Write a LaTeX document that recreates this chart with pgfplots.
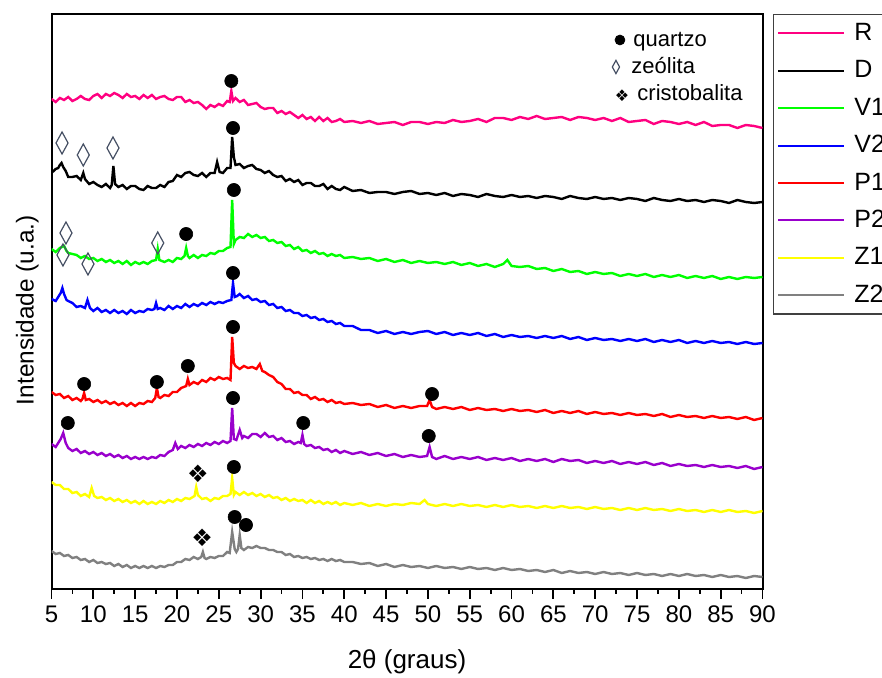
\documentclass[border=0pt]{standalone}
\usepackage{fontspec}
\setmainfont{Liberation Sans}
\newfontfamily\symfont{DejaVu Sans}
\usepackage{pgfplots}
\pgfplotsset{compat=1.18}

\newcommand\fs[1]{\fontsize{#1}{#1}\selectfont}
\definecolor{cR}{RGB}{255,0,128}
\definecolor{cV1}{RGB}{0,255,0}
\definecolor{cV2}{RGB}{0,0,255}
\definecolor{cP1}{RGB}{255,0,0}
\definecolor{cP2}{RGB}{153,0,204}
\definecolor{cZ1}{RGB}{255,255,0}
\definecolor{cZ2}{RGB}{128,128,128}
\definecolor{dia}{RGB}{70,80,100}

\begin{document}
\begin{tikzpicture}
\begin{axis}[
  name=ax,
  scale only axis, width=355.5pt, height=287.5pt,
  xmin=5, xmax=90, ymin=0, ymax=575,
  xtick={5,10,...,90}, minor x tick num=1,
  ytick=\empty,
  tick align=outside, xtick pos=bottom,
  major tick length=5pt, minor tick length=2.5pt,
  tick style={black, line width=0.9pt},
  axis line style={line width=1pt},
  /pgf/number format/assume math mode=true,
  tick label style={font=\fs{12}},
  xlabel={2θ (graus)},
  xlabel style={font=\fs{13}, at={(axis description cs:0.5,0)}, anchor=center, yshift=-36.5pt},
  ylabel={Intensidade (u.a.)},
  ylabel style={font=\fs{12.2}, at={(axis description cs:-0.034,0.485)}, anchor=center},
  legend style={at={(1,1)}, anchor=north west, xshift=5pt, draw=black!75, line width=0.7pt,
    fill=white, font=\fs{12.5}, inner xsep=2pt, inner ysep=0pt, row sep=0pt,
    nodes={inner sep=0pt, minimum height=18.7pt}},
  legend cell align=left,
  legend image code/.code={\draw[#1,line width=1pt] (0pt,0pt) -- (33pt,0pt); \path (37.5pt,0pt);},
  every axis plot/.append style={line width=1.2pt},
]
% R
\addplot[cR] coordinates {(5,490) (5.5,487) (6,491) (6.5,489) (7,492) (7.5,488) (8,490) (8.5,493) (9,490) (9.5,489) (10,493) (10.5,495) (11,491) (11.5,495) (12,493) (12.5,496) (13,494) (13.5,491) (14,495) (14.5,492) (15,493) (15.5,490) (16,494) (16.5,491) (17,494) (17.5,490) (18,492) (18.5,493) (19,490) (19.5,489) (20,492) (20.5,492) (21,487) (21.5,489) (22,486) (22.5,487) (23,484) (23.5,480) (24,484) (24.5,482) (25,485) (25.5,483) (26,488) (26.3,487) (26.5,498) (26.7,488) (27,491) (27.5,487) (28,489) (28.5,484) (29,485) (29.5,486) (30,482) (30.5,480) (31,481) (31.5,481) (32,476) (32.5,478) (33,475) (33.5,477) (34,474) (34.5,471) (35,474) (35.5,470) (36,472) (36.5,468) (37,472) (37.5,468) (38,471) (38.5,467) (39,468) (39.5,470) (40,467)
(41,468) (42,466) (43,468) (44,465) (45,466) (46,467) (47,464) (48,467) (49,467) (50,465) (51,467) (52,466) (53,469) (54,467) (55,468) (56,470) (57,467) (58,471) (59,471) (60,469) (61,472) (62,470) (63,473) (64,470) (65,471) (66,472) (67,469) (68,472) (69,471) (70,469) (71,471) (72,468) (73,471) (74,467) (75,468) (76,469) (77,465) (78,468) (79,467) (80,465) (81,467) (82,464) (83,467) (84,463) (85,464) (86,464) (87,461) (88,464) (89,463) (90,461)};
\addlegendentry{R}
% D
\addplot[black] coordinates {(5,416) (5.5,420) (5.8,421) (6.0,424) (6.2,426) (6.4,422) (6.7,418) (7,412) (7.5,412) (8,413) (8.5,409) (8.8,416) (9.0,410) (9.5,405) (10,407) (10.5,404) (11,402) (11.5,405) (12,401) (12.2,404) (12.4,423) (12.6,405) (13,402) (13.5,404) (14,400) (14.5,403) (15,403) (15.5,400) (16,399) (16.5,403) (17,401) (17.5,401) (18,404) (18.5,402) (19,407) (19.5,408) (20,414) (20.5,412) (21,416) (21.5,417) (22,414) (22.5,413) (23,416) (23.5,412) (24,416) (24.5,416) (24.8,427) (25.1,417) (25.5,416) (26,421) (26.4,421) (26.6,452) (26.8,432) (27,424) (27.5,425) (28,421) (28.5,423) (29,424) (29.5,420) (30,419) (30.5,416) (31,418) (31.5,414) (32,412) (32.5,413) (33,408) (33.5,410) (34,407) (34.5,409) (35,404) (35.5,406) (36,406) (36.5,403) (37,403) (37.5,405) (38,400) (38.5,403) (39,400) (39.5,399) (40,402)
(41,398) (42,399) (43,396) (44,397) (45,397) (46,395) (47,397) (48,398) (49,395) (50,396) (51,394) (52,396) (53,393) (54,395) (55,394) (56,392) (57,395) (58,393) (59,392) (60,394) (61,392) (62,393) (63,391) (64,393) (65,392) (66,390) (67,393) (68,391) (69,390) (70,392) (71,390) (72,391) (73,389) (74,391) (75,390) (76,388) (77,391) (78,389) (79,388) (80,390) (81,388) (82,389) (83,387) (84,389) (85,388) (86,386) (87,389) (88,387) (89,386) (90,387)};
\addlegendentry{D}
% V1
\addplot[cV1] coordinates {(5,340) (5.5,337) (6,341) (6.5,343) (6.8,338) (7,336) (7.5,335) (8,334) (8.5,331) (9,333) (9.5,330) (10,331) (10.5,328) (11,330) (11.5,327) (12,329) (12.5,326) (13,328) (13.5,325) (14,328) (14.5,324) (15,327) (15.5,325) (16,327) (16.5,325) (17,328) (17.5,329) (17.7,340) (17.9,329) (18.5,327) (19,329) (19.5,327) (20,331) (20.5,330) (20.9,333) (21.1,341) (21.3,333) (21.5,331) (22,334) (22.5,331) (23,334) (23.5,333) (24,336) (24.5,335) (25,338) (25.5,338) (26,341) (26.4,342) (26.6,389) (26.8,345) (27,349) (27.5,352) (28,351) (28.5,355) (29,352) (29.5,354) (30,351) (30.5,352) (31,348) (31.5,349) (32,346) (32.5,347) (33,343) (33.5,344) (34,340) (34.5,342) (35,338) (35.5,339) (36,336) (36.5,338) (37,335) (37.5,336) (38,333) (38.5,335) (39,333) (39.5,334) (40,331)
(41,332) (42,330) (43,331) (44,328) (45,330) (46,327) (47,329) (48,326) (49,328) (50,326) (51,327) (52,325) (53,327) (54,324) (55,326) (56,323) (57,325) (58,322) (59,325) (59.5,329) (60,323) (61,322) (62,323) (63,320) (64,321) (65,318) (66,320) (67,317) (68,318) (69,315) (70,317) (71,315) (72,316) (73,313) (74,315) (75,313) (76,315) (77,312) (78,314) (79,312) (80,314) (81,311) (82,313) (83,311) (84,313) (85,310) (86,312) (87,310) (88,312) (89,311) (90,312)};
\addlegendentry{V1}
% V2
\addplot[cV2] coordinates {(5,290) (5.5,288) (5.8,292) (6.1,296) (6.3,301) (6.5,295) (6.8,289) (7,288) (7.5,286) (8,282) (8.5,283) (9,281) (9.3,289) (9.6,281) (10,278) (10.5,281) (11,277) (11.5,279) (12,276) (12.5,279) (13,276) (13.5,278) (14,275) (14.5,279) (15,276) (15.5,278) (16,277) (16.5,280) (17,279) (17.3,280) (17.5,286) (17.7,280) (18,281) (18.5,279) (19,283) (19.5,280) (20,283) (20.5,281) (21,285) (21.5,282) (22,285) (22.5,283) (23,286) (23.5,284) (24,287) (24.5,285) (25,287) (25.5,286) (26,288) (26.5,289) (26.7,306) (26.9,292) (27.2,293) (27.5,295) (28,291) (28.5,293) (29,289) (29.5,290) (30,287) (30.5,288) (31,284) (31.5,285) (32,281) (32.5,282) (33,278) (33.5,279) (34,276) (34.5,276) (35,273) (35.5,274) (36,271) (36.5,272) (37,269) (37.5,270) (38,267) (38.5,268) (39,265) (39.5,266) (40,263)
(41,263) (42,259) (43,259) (44,256) (45,258) (46,255) (47,257) (48,255) (49,257) (50,258) (51,255) (52,257) (53,254) (54,256) (55,254) (56,256) (57,253) (58,255) (59,252) (60,254) (61,252) (62,253) (63,251) (64,253) (65,251) (66,253) (67,250) (68,252) (69,249) (70,251) (71,249) (72,250) (73,248) (74,250) (75,248) (76,250) (77,247) (78,249) (79,247) (80,249) (81,246) (82,248) (83,246) (84,248) (85,246) (86,247) (87,245) (88,247) (89,245) (90,246)};
\addlegendentry{V2}
% P1
\addplot[cP1] coordinates {(5,197) (5.5,194) (6,195) (6.5,191) (7,193) (7.5,189) (8,191) (8.5,188) (8.7,190) (8.9,196) (9.1,189) (9.5,190) (10,187) (10.5,189) (11,186) (11.5,188) (12,185) (12.5,187) (13,184) (13.5,186) (14,183) (14.5,186) (15,183) (15.5,186) (16,185) (16.5,188) (17,187) (17.4,191) (17.6,201) (17.8,192) (18,191) (18.5,194) (19,193) (19.5,197) (20,197) (20.5,201) (21.1,203) (21.3,210) (21.5,204) (22,207) (22.5,205) (23,209) (23.5,207) (24,211) (24.5,209) (25,212) (25.5,210) (26,211) (26.4,209) (26.6,252) (26.8,226) (27,223) (27.5,220) (28,223) (28.5,221) (29,222) (29.5,220) (29.9,225) (30.2,218) (30.5,217) (31,214) (31.5,212) (32,207) (32.5,205) (33,200) (33.5,200) (34,196) (34.5,197) (35,194) (35.5,194) (36,190) (36.5,192) (37,189) (37.5,190) (38,187) (38.5,189) (39,186) (39.5,187) (40,185)
(41,186) (42,184) (43,185) (44,182) (45,184) (46,181) (47,183) (48,181) (49,183) (49.9,183) (50.2,189) (50.5,182) (51,180) (52,182) (53,180) (54,182) (55,179) (56,181) (57,179) (58,180) (59,178) (60,180) (61,178) (62,179) (63,177) (64,179) (65,176) (66,178) (67,176) (68,178) (69,175) (70,177) (71,175) (72,176) (73,174) (74,176) (75,174) (76,175) (77,173) (78,175) (79,172) (80,174) (81,172) (82,173) (83,171) (84,173) (85,171) (86,172) (87,170) (88,172) (89,169) (90,171)};
\addlegendentry{P1}
% P2
\addplot[cP2] coordinates {(5,145) (5.5,142) (5.8,146) (6.1,150) (6.4,156) (6.7,146) (7,141) (7.5,138) (8,140) (8.5,136) (9,138) (9.5,135) (10,137) (10.5,134) (11,136) (11.5,133) (12,135) (12.5,132) (13,134) (13.5,131) (14,133) (14.5,130) (15,132) (15.5,130) (16,132) (16.5,130) (17,132) (17.5,131) (18,134) (18.5,133) (19,137) (19.5,139) (19.8,146) (20.1,140) (20.5,143) (21,141) (21.5,144) (22,142) (22.5,145) (23,143) (23.5,146) (24,144) (24.5,147) (25,145) (25.5,148) (26,146) (26.4,148) (26.6,181) (26.8,150) (27.1,149) (27.5,159) (27.8,151) (28,153) (28.5,151) (29,155) (29.5,155) (30,152) (30.5,156) (31,152) (31.5,153) (32,149) (32.5,151) (33,147) (33.5,148) (34,145) (34.5,147) (34.8,146) (35.0,154) (35.2,145) (35.5,143) (36,144) (36.5,141) (37,142) (37.5,139) (38,140) (38.5,137) (39,139) (39.5,136) (40,138)
(41,135) (42,137) (43,134) (44,136) (45,133) (46,135) (47,132) (48,134) (49,132) (49.9,133) (50.2,142) (50.5,132) (51,130) (52,133) (53,130) (54,132) (55,130) (56,132) (57,129) (58,131) (59,129) (60,131) (61,128) (62,130) (63,128) (64,130) (65,127) (66,130) (67,128) (68,129) (69,126) (70,128) (71,126) (72,128) (73,125) (74,127) (75,125) (76,127) (77,124) (78,126) (79,123) (80,125) (81,123) (82,124) (83,122) (84,124) (85,122) (86,123) (87,121) (88,123) (89,120) (90,122)};
\addlegendentry{P2}
% Z1
\addplot[cZ1] coordinates {(5,107) (5.5,104) (6,104) (6.5,100) (7,100) (7.5,96) (8,97) (8.5,93) (9,95) (9.5,92) (9.8,101) (10.1,93) (10.5,91) (11,92) (11.5,89) (12,91) (12.5,88) (13,90) (13.5,87) (14,89) (14.5,86) (15,88) (15.5,85) (16,88) (16.5,85) (17,87) (17.5,85) (18,88) (18.5,86) (19,89) (19.5,87) (20,90) (20.5,88) (21,91) (21.5,90) (22.1,93) (22.3,102) (22.5,94) (23,90) (23.5,91) (24,88) (24.5,91) (25,90) (25.5,93) (26,93) (26.4,95) (26.6,111) (26.8,94) (27,97) (27.5,94) (28,97) (28.5,94) (29,96) (29.5,93) (30,95) (30.5,92) (31,94) (31.5,91) (32,92) (32.5,89) (33,91) (33.5,88) (34,90) (34.5,88) (35,89) (35.5,86) (36,89) (36.5,86) (37,88) (37.5,85) (38,87) (38.5,85) (39,87) (39.5,84) (40,86)
(41,84) (42,86) (43,83) (44,85) (45,83) (46,85) (47,84) (48,86) (49,85) (49.6,89) (50,85) (51,83) (52,85) (53,83) (54,85) (55,83) (56,84) (57,82) (58,84) (59,82) (60,84) (61,82) (62,83) (63,81) (64,83) (65,81) (66,83) (67,81) (68,82) (69,80) (70,82) (71,80) (72,81) (73,79) (74,81) (75,79) (76,81) (77,79) (78,80) (79,78) (80,80) (81,78) (82,79) (83,77) (84,79) (85,77) (86,79) (87,77) (88,78) (89,76) (90,78)};
\addlegendentry{Z1}
% Z2
\addplot[cZ2] coordinates {(5,38) (5.5,35) (6,36) (6.5,33) (7,34) (7.5,31) (8,32) (8.5,29) (9,30) (9.5,27) (10,29) (10.5,26) (11,27) (11.5,25) (12,26) (12.5,23) (13,25) (13.5,22) (14,24) (14.5,21) (15,23) (15.5,21) (16,23) (16.5,21) (17,23) (17.5,21) (18,23) (18.5,22) (19,24) (19.5,24) (20,27) (20.5,27) (21,30) (21.5,29) (22,32) (22.5,30) (22.9,32) (23.1,37) (23.3,31) (23.5,30) (24,32) (24.5,31) (25,33) (25.5,33) (26,37) (26.3,36) (26.6,57) (26.9,40) (27.1,37) (27.3,40) (27.5,54) (27.7,41) (28,39) (28.5,42) (29,41) (29.5,43) (30,41) (30.5,41) (31,39) (31.5,39) (32,37) (32.5,37) (33,34) (33.5,35) (34,32) (34.5,33) (35,31) (35.5,32) (36,30) (36.5,31) (37,29) (37.5,30) (38,28) (38.5,30) (39,28) (39.5,29) (40,27)
(41,27) (42,25) (43,26) (44,23) (45,25) (46,22) (47,24) (48,22) (49,23) (50,21) (51,23) (52,21) (53,22) (54,20) (55,22) (56,20) (57,21) (58,19) (59,21) (60,19) (61,20) (62,18) (63,19) (64,17) (65,19) (66,16) (67,18) (68,16) (69,17) (70,15) (71,17) (72,15) (73,16) (74,14) (75,16) (76,14) (77,15) (78,13) (79,15) (80,13) (81,15) (82,13) (83,14) (84,12) (85,14) (86,12) (87,13) (88,11) (89,13) (90,12)};
\addlegendentry{Z2}

% quartzo
\addplot[forget plot, only marks, mark=*, mark size=3.3pt, black, mark options={line width=0.3pt}] coordinates {(26.5,508) (26.7,461) (26.8,399) (21.1,355) (26.7,316) (8.9,205) (17.6,207) (21.3,223) (26.7,262) (50.5,195) (6.95,166) (26.7,191) (35.1,166) (50.1,153) (26.8,122) (26.9,72) (28.25,64)};
\addplot[forget plot, only marks, mark=*, mark size=2.5pt, black, mark options={line width=0.3pt}] coordinates {(72.96,549)};
% zeolita
\addplot[forget plot, only marks, mark=diamond, mark size=5.5pt, dia, mark options={xscale=0.73, line width=0.6pt}] coordinates {(6.26,446) (8.8,434) (12.35,441) (6.73,356) (17.7,346) (6.37,334) (9.36,325)};
\addplot[forget plot, only marks, mark=diamond, mark size=3.3pt, dia, mark options={xscale=0.73, line width=0.6pt}] coordinates {(72.48,522)};
% cristobalita
\addplot[forget plot, only marks, mark=text, text mark={❖}, text mark as node=true, text mark style={font=\fontsize{12}{12}\symfont, inner sep=0pt}] coordinates {(22.5,115) (23.0,51)};
\addplot[forget plot, only marks, mark=text, text mark={❖}, text mark as node=true, text mark style={font=\fontsize{8}{8}\symfont, inner sep=0pt}] coordinates {(73.2,493)};

\node[anchor=base west, font=\fs{11}, inner sep=0pt] at (axis cs:74.52,542) {quartzo};
\node[anchor=base west, font=\fs{11}, inner sep=0pt] at (axis cs:74.28,515) {zeólita};
\node[anchor=base west, font=\fs{11}, inner sep=0pt] at (axis cs:75.0,488) {cristobalita};
\end{axis}
\pgfresetboundingbox
\useasboundingbox ([xshift=-25.75pt,yshift=-44.5pt]ax.south west) rectangle ([xshift=415.25pt,yshift=294.5pt]ax.south west);
\end{tikzpicture}
\end{document}
